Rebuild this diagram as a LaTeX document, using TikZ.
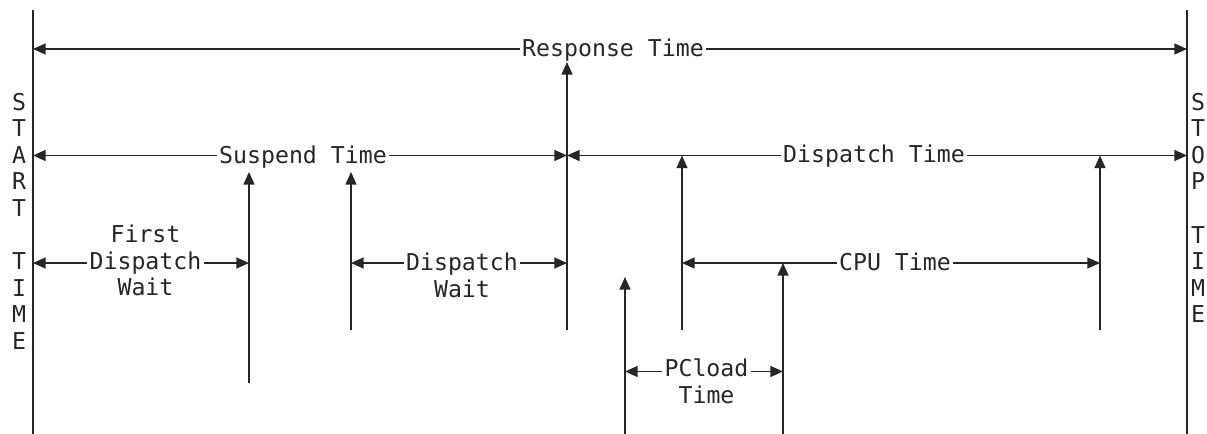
\documentclass[tikz,border=0pt]{standalone}
\usepackage{fontspec}
\newfontfamily\monof{DejaVu Sans Mono}
\usetikzlibrary{arrows.meta}
\begin{document}
\begin{tikzpicture}[x=0.5pt,y=-0.5pt,
  ln/.style={line width=0.65pt, draw=black!85},
  arr/.style={ln, -{Triangle[length=6.3pt,width=5.5pt]}},
  lbl/.style={font=\monof\fontsize{11.6}{13.3}\selectfont, text=black!85, inner xsep=1pt, inner ysep=0pt},
  slbl/.style={lbl, anchor=base},
  mlbl/.style={lbl, align=center, anchor=north}]
\useasboundingbox (0,0) rectangle (1207,434);

% boundary lines
\coordinate (Ltop) at (33,10);  \coordinate (Lbot) at (33,434);
\coordinate (Rtop) at (1187,10); \coordinate (Rbot) at (1187,434);
\draw[ln] (Ltop) -- (Lbot);
\draw[ln] (Rtop) -- (Rbot);

% vertical texts
\node[mlbl] (start) at (19,92.5) {S\\T\\A\\R\\T\\\mbox{}\\T\\I\\M\\E};
\node[mlbl] (stop) at (1198,92.5) {S\\T\\O\\P\\\mbox{}\\T\\I\\M\\E};

% Response time
\coordinate (rL) at (33,49); \coordinate (rR) at (1187,49);
\node[slbl] (resp) at (613,56) {Response Time};
\draw[arr] (resp.west |- rL) -- (rL);
\draw[arr] (resp.east |- rR) -- (rR);

% Suspend time
\coordinate (sL) at (33,155.5); \coordinate (sR) at (567,155.5);
\node[slbl] (susp) at (303,163) {Suspend Time};
\draw[arr] (susp.west |- sL) -- (sL);
\draw[arr] (susp.east |- sR) -- (sR);

% Dispatch time
\coordinate (dL) at (567,155.5); \coordinate (dR) at (1187,155.5);
\node[slbl] (dispt) at (874,162.5) {Dispatch Time};
\draw[arr] (dispt.west |- dL) -- (dL);
\draw[arr] (dispt.east |- dR) -- (dR);

% First dispatch wait
\coordinate (fL) at (33,263); \coordinate (fR) at (249,263);
\node[mlbl] (fdw) at (145.5,224.4) {First\\Dispatch\\Wait};
\draw[arr] (fdw.west |- fL) -- (fL);
\draw[arr] (fdw.east |- fR) -- (fR);

% Dispatch wait
\coordinate (wL) at (351,263); \coordinate (wR) at (567,263);
\node[mlbl] (dw) at (462,252.4) {Dispatch\\Wait};
\draw[arr] (dw.west |- wL) -- (wL);
\draw[arr] (dw.east |- wR) -- (wR);

% CPU time
\coordinate (cL) at (682,263); \coordinate (cR) at (1100,263);
\node[slbl] (cpu) at (895,270) {CPU Time};
\draw[arr] (cpu.west |- cL) -- (cL);
\draw[arr] (cpu.east |- cR) -- (cR);

% PCload time
\coordinate (pL) at (625,371.5); \coordinate (pR) at (783,371.5);
\node[mlbl] (pcl) at (706.5,358.4) {PCload\\Time};
\draw[arr] (pcl.west |- pL) -- (pL);
\draw[arr] (pcl.east |- pR) -- (pR);

% vertical event arrows
\coordinate (v1b) at (249,383);  \coordinate (v1t) at (249,172);
\coordinate (v2b) at (351,330);  \coordinate (v2t) at (351,172);
\coordinate (v3b) at (567,330);  \coordinate (v3t) at (567,62);
\coordinate (v4b) at (625,434);  \coordinate (v4t) at (625,277);
\coordinate (v5b) at (682,330);  \coordinate (v5t) at (682,155.5);
\coordinate (v6b) at (783,434);  \coordinate (v6t) at (783,263);
\coordinate (v7b) at (1100,330); \coordinate (v7t) at (1100,155.5);
\foreach \i in {1,...,7} \draw[arr] (v\i b) -- (v\i t);
\end{tikzpicture}
\end{document}
